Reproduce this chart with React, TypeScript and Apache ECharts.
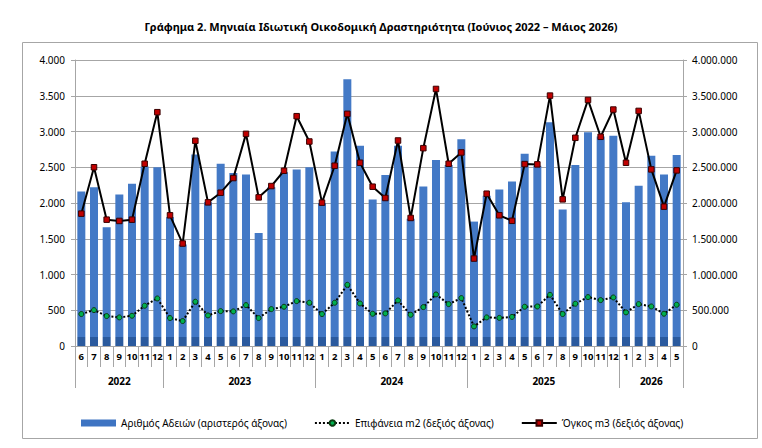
import React, { useEffect, useRef } from "react";
import * as echarts from "echarts";

const monthLabels = [
  "6", "7", "8", "9", "10", "11", "12",
  "1", "2", "3", "4", "5", "6", "7", "8", "9", "10", "11", "12",
  "1", "2", "3", "4", "5", "6", "7", "8", "9", "10", "11", "12",
  "1", "2", "3", "4", "5", "6", "7", "8", "9", "10", "11", "12",
  "1", "2", "3", "4", "5",
];
const yearNames = ["2022", "2023", "2024", "2025", "2026"];
const yearMonthCounts = [7, 12, 12, 12, 5];

const permits = [
  2160, 2220, 1660, 2120, 2270, 2510, 2500,
  1800, 1420, 2680, 2010, 2550, 2420, 2400, 1580, 2220, 2430, 2470, 2500,
  2000, 2720, 3730, 2800, 2050, 2390, 2800, 1780, 2230, 2600, 2530, 2890,
  1740, 2100, 2190, 2300, 2690, 2520, 3130, 1910, 2530, 2990, 2930, 2940,
  2010, 2240, 2660, 2400, 2670,
];
const surfaceM2 = [
  447000, 502000, 419000, 400000, 423000, 563000, 665000,
  391000, 349000, 619000, 428000, 488000, 484000, 572000, 391000, 516000, 549000, 628000, 605000,
  447000, 605000, 856000, 595000, 451000, 456000, 637000, 437000, 544000, 721000, 586000, 670000,
  274000, 400000, 393000, 407000, 549000, 553000, 716000, 447000, 591000, 684000, 642000, 679000,
  470000, 586000, 553000, 451000, 577000,
];
const volumeM3 = [
  1851000, 2500000, 1767000, 1749000, 1767000, 2549000, 3270000,
  1828000, 1433000, 2870000, 2009000, 2144000, 2349000, 2967000, 2079000, 2237000, 2451000, 3214000, 2860000,
  2005000, 2521000, 3247000, 2563000, 2228000, 2070000, 2874000, 1791000, 2767000, 3595000, 2549000, 2707000,
  1223000, 2130000, 1828000, 1751000, 2544000, 2540000, 3502000, 2051000, 2912000, 3442000, 2926000, 3307000,
  2563000, 3288000, 2470000, 1949000, 2456000,
];

const FONT = "'Noto Sans', sans-serif";

function fmtDots(v: number): string {
  return String(Math.round(v)).replace(/\B(?=(\d{3})+(?!\d))/g, ".");
}

export default function App() {
  const ref = useRef<HTMLDivElement>(null);

  useEffect(() => {
    if (!ref.current) return;
    const chart = echarts.init(ref.current, null, { renderer: "svg" });

    const yearOfMonth: string[] = [];
    const groupStarts: number[] = [];
    const centreIdx: number[] = [];
    const halfShift: number[] = [];
    let pos = 0;
    yearNames.forEach((y, i) => {
      const n = yearMonthCounts[i];
      groupStarts.push(pos);
      const c = pos + n / 2 - 0.5;
      centreIdx.push(Math.floor(c));
      if (c !== Math.floor(c)) halfShift.push(Math.floor(c));
      for (let k = 0; k < n; k++) yearOfMonth.push(y);
      pos += n;
    });

    const barColor = new echarts.graphic.LinearGradient(
      0, 0, 0, 448,
      [
        { offset: 0, color: "#4379C6" },
        { offset: 337 / 448, color: "#4379C6" },
        { offset: 337 / 448, color: "#2A5A9E" },
        { offset: 1, color: "#2A5A9E" },
      ],
      true
    );

    chart.setOption({
      animation: false,
      textStyle: { fontFamily: FONT },
      title: {
        text: "Γράφημα 2. Μηνιαία Ιδιωτική Οικοδομική Δραστηριότητα (Ιούνιος 2022 – Μάιος 2026)",
        left: "center",
        top: 16,
        textStyle: { fontFamily: FONT, fontSize: 11, fontWeight: "bold", color: "#000" },
      },
      graphic: [
        {
          type: "rect",
          shape: { x: 22.5, y: 42.5, width: 735, height: 396 },
          style: { fill: "none", stroke: "#A6A6A6", lineWidth: 1 },
          silent: true,
        },
      ],
      legend: {
        top: 413,
        left: 76,
        itemGap: 27,
        itemWidth: 35,
        itemHeight: 7,
        textStyle: { fontFamily: FONT, fontSize: 10, color: "#000" },
        data: [
          { name: "Αριθμός Αδειών (αριστερός άξονας)", icon: "rect", itemStyle: { color: "#3E74C2" } },
          { name: "Επιφάνεια m2 (δεξιός άξονας)" },
          { name: "Όγκος m3 (δεξιός άξονας)" },
        ],
      },
      grid: { left: 75, right: 79, top: 60, bottom: 102 },
      xAxis: [
        {
          type: "category",
          data: monthLabels,
          boundaryGap: true,
          axisLine: { show: true, lineStyle: { color: "#A6A6A6" } },
          axisTick: { show: true, interval: 0, length: 21, lineStyle: { color: "#A6A6A6" } },
          axisLabel: {
            interval: 0,
            margin: 5,
            fontFamily: FONT,
            fontSize: 9.5,
            fontWeight: "bold",
            color: "#000",
          },
        },
        {
          type: "category",
          data: yearOfMonth,
          position: "bottom",
          boundaryGap: true,
          axisLine: { show: false },
          axisTick: {
            show: true,
            length: 42,
            interval: (i: number) => groupStarts.indexOf(i) >= 0,
            lineStyle: { color: "#A6A6A6" },
          },
          axisLabel: {
            interval: (i: number) => centreIdx.indexOf(i) >= 0,
            margin: 30,
            fontFamily: FONT,
            fontSize: 10,
            fontWeight: "bold",
            color: "#000",
            formatter: (v: string, i: number) => (halfShift.indexOf(i) >= 0 ? `{s|${v}}` : v),
            rich: {
              s: { padding: [0, 0, 0, 13], fontFamily: FONT, fontSize: 10, fontWeight: "bold", color: "#000" },
            },
          },
        },
      ],
      yAxis: [
        {
          type: "value",
          min: 0,
          max: 4000,
          interval: 500,
          axisLine: { show: true, lineStyle: { color: "#A6A6A6" } },
          axisTick: { show: true, length: 4, lineStyle: { color: "#A6A6A6" } },
          splitLine: { show: true, lineStyle: { color: "#A6A6A6", width: 1 } },
          axisLabel: { margin: 10, fontFamily: FONT, fontSize: 10, color: "#000", formatter: fmtDots },
        },
        {
          type: "value",
          min: 0,
          max: 4000000,
          interval: 500000,
          position: "right",
          axisLine: { show: true, lineStyle: { color: "#A6A6A6" } },
          axisTick: { show: true, length: 4, lineStyle: { color: "#A6A6A6" } },
          splitLine: { show: false },
          axisLabel: { margin: 9, fontFamily: FONT, fontSize: 10, color: "#000", formatter: fmtDots },
        },
      ],
      series: [
        {
          name: "Αριθμός Αδειών (αριστερός άξονας)",
          type: "bar",
          xAxisIndex: 0,
          yAxisIndex: 0,
          data: permits,
          barWidth: 8,
          itemStyle: { color: barColor },
        },
        {
          name: "Επιφάνεια m2 (δεξιός άξονας)",
          type: "line",
          xAxisIndex: 0,
          yAxisIndex: 1,
          data: surfaceM2,
          symbol: "circle",
          symbolSize: 5,
          showAllSymbol: true,
          lineStyle: { color: "#000", width: 2, type: "dotted" },
          itemStyle: { color: "#00B050", borderColor: "#0B3D12", borderWidth: 1 },
          z: 3,
        },
        {
          name: "Όγκος m3 (δεξιός άξονας)",
          type: "line",
          xAxisIndex: 0,
          yAxisIndex: 1,
          data: volumeM3,
          symbol: "rect",
          symbolSize: 5.5,
          showAllSymbol: true,
          lineStyle: { color: "#000", width: 2 },
          itemStyle: { color: "#C00000", borderColor: "#3A0000", borderWidth: 1 },
          z: 4,
        },
      ],
    });

    return () => chart.dispose();
  }, []);

  return (
    <div
      ref={ref}
      style={{ position: "absolute", left: 0, top: 0, width: 762, height: 448, background: "#fff" }}
    />
  );
}
